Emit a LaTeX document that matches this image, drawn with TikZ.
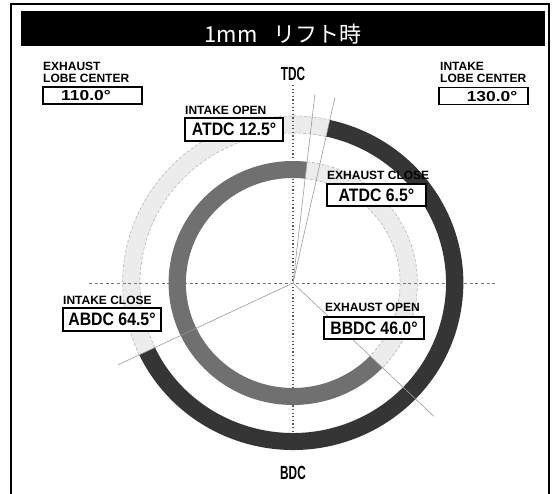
\documentclass[tikz,border=0pt]{standalone}
\usepackage{fontspec}
\setmainfont{Liberation Sans}
\newfontfamily\labfont{Liberation Sans}
\newfontfamily\valfont[FakeStretch=0.88]{Liberation Sans}
\newfontfamily\lobefont[FakeStretch=1.2]{Liberation Sans}
\newfontfamily\axfont[FakeStretch=0.62]{Liberation Sans}
\newfontfamily\jpfont{Noto Sans CJK JP}
\usetikzlibrary{calc}
\definecolor{ringdark}{HTML}{353535}
\definecolor{ringmid}{HTML}{707070}
\definecolor{ringlight}{HTML}{ECECEC}
\definecolor{ringedge}{HTML}{B4B4B4}
\definecolor{axisgray}{HTML}{555555}
\definecolor{radgray}{HTML}{9A9A9A}
\tikzset{
  smalllab/.style={anchor=base west, inner sep=0pt, font=\labfont\bfseries\fontsize{12}{12}\selectfont},
  valbox/.style={draw=black, line width=1.3pt, fill=white, inner sep=0pt, minimum width=#1, minimum height=22pt,
     font=\valfont\bfseries\fontsize{18}{18}\selectfont},
  lobebox/.style={draw=black, line width=1.2pt, fill=white, inner sep=0pt, minimum width=#1, minimum height=17pt},
  lobeval/.style={anchor=base, inner sep=0pt, font=\lobefont\bfseries\fontsize{14.5}{15}\selectfont},
  axlab/.style={anchor=base, inner sep=0pt, font=\axfont\bfseries\fontsize{19}{19}\selectfont},
  lightedge/.style={ringedge, line width=0.6pt, dash pattern=on 3pt off 2pt},
  radline/.style={radgray, line width=0.6pt},
}
\begin{document}
\begin{tikzpicture}[x=1pt,y=-1pt]
\useasboundingbox (0,0) rectangle (552,494);
% outer frame
\draw[gray!55, line width=2.8pt] (11,500) -- (11,4) -- (549,4) -- (549,500);
\draw[black, line width=1.2pt] (11,500) -- (11,4) -- (549,4) -- (549,500);
% title bar
\node[fill=black, minimum width=524pt, minimum height=35pt, inner sep=0pt, anchor=north west] (bar) at (21,11) {};
\node[anchor=base, inner sep=0pt, text=white, font=\jpfont\fontsize{22}{22}\selectfont] (title) at (283,43) {1mm\hspace{16pt}リフト時};

\coordinate (O) at (293,283);
% light ring parts
\begin{scope}[shift={(293,283)}, xscale=1.02]
  \fill[ringlight] (154.5:167) arc[start angle=154.5, end angle=282.5, radius=167] -- (282.5:150) arc[start angle=282.5, end angle=154.5, radius=150] -- cycle;
  \draw[lightedge] (154.5:167) arc[start angle=154.5, end angle=282.5, radius=167];
  \draw[lightedge] (154.5:150) arc[start angle=154.5, end angle=282.5, radius=150];
  \fill[ringlight] (-83.5:122) arc[start angle=-83.5, end angle=44, radius=122] -- (44:105) arc[start angle=44, end angle=-83.5, radius=105] -- cycle;
  \draw[lightedge] (-83.5:122) arc[start angle=-83.5, end angle=44, radius=122];
  \draw[lightedge] (-83.5:105) arc[start angle=-83.5, end angle=44, radius=105];
\end{scope}

% labels TDC / BDC and axes
\node[axlab] (tdc) at (293,81) {TDC};
\node[axlab] (bdc) at (293,479) {BDC};
\draw[axisgray, line width=1.1pt, dash pattern=on 1.2pt off 2.4pt] (293,85) -- (293,452);
\draw[axisgray!80, line width=0.9pt, dash pattern=on 3pt off 2.6pt] (89,283) -- (495,283);

% dark ring parts
\begin{scope}[shift={(293,283)}, xscale=1.02]
  \fill[ringdark] (-77.5:167) arc[start angle=-77.5, end angle=154.5, radius=167] -- (154.5:150) arc[start angle=154.5, end angle=-77.5, radius=150] -- cycle;
  \fill[ringmid] (44:122) arc[start angle=44, end angle=276.5, radius=122] -- (276.5:105) arc[start angle=276.5, end angle=44, radius=105] -- cycle;
  % radial lines
  \draw[radline] (0,0) -- (-83.5:190);
  \draw[radline] (0,0) -- (-77.5:190);
  \draw[radline] (0,0) -- (44:192);
  \draw[radline] (0,0) -- (154.5:190);
\end{scope}

% lobe centers
\node[smalllab] (exlc1) at (43,71) {EXHAUST};
\node[smalllab] (exlc2) at (43,83) {LOBE CENTER};
\node[lobebox=99pt] (exlcbox) at (92.5,95.5) {};
\node[lobeval] (exlcval) at (86,101) {110.0°};

\node[smalllab] (inlc1) at (440,71) {INTAKE};
\node[smalllab] (inlc2) at (440,83) {LOBE CENTER};
\node[lobebox=89pt] (inlcbox) at (483.5,96) {};
\node[lobeval] (inlcval) at (492,101.5) {130.0°};

% timing labels
\node[smalllab] (iolab) at (185,115) {INTAKE OPEN};
\node[valbox=98pt, minimum height=23pt] (iobox) at (234,129.5) {ATDC 12.5°};

\node[smalllab] (eclab) at (327,180) {EXHAUST CLOSE};
\node[valbox=99pt] (ecbox) at (376.5,195) {ATDC 6.5°};

\node[smalllab] (iclab) at (63,305) {INTAKE CLOSE};
\node[valbox=98pt, minimum height=23pt] (icbox) at (112,319.5) {ABDC 64.5°};

\node[smalllab] (eolab) at (325,312) {EXHAUST OPEN};
\node[valbox=100pt] (eobox) at (374,328) {BBDC 46.0°};
\end{tikzpicture}
\end{document}
